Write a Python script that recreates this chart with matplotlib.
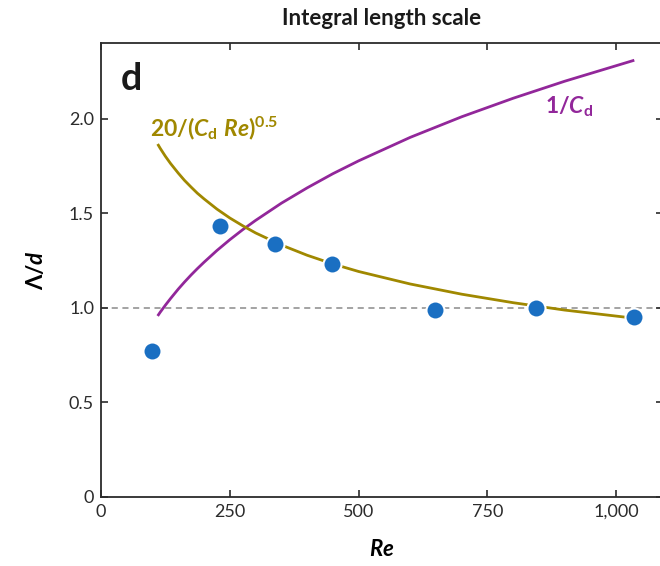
import numpy as np
import matplotlib
matplotlib.use("Agg")
import matplotlib.pyplot as plt

# =====================================================================
# Data
# =====================================================================
re_meas = [99, 231, 338, 449, 648, 844, 1035]
lam_meas = [0.77, 1.43, 1.34, 1.23, 0.99, 1.00, 0.95]

re_curve = [110, 115, 125, 135, 150, 162, 175, 187, 200, 225, 250, 275,
            300, 350, 400, 450, 500, 600, 700, 800, 900, 1035]
inv_cd = [0.957, 0.977, 1.014, 1.049, 1.099, 1.136, 1.174, 1.207, 1.241,
          1.303, 1.360, 1.413, 1.462, 1.553, 1.634, 1.709, 1.777, 1.901,
          2.010, 2.108, 2.198, 2.309]
scaled = [1.866, 1.843, 1.801, 1.763, 1.712, 1.674, 1.638, 1.606, 1.576,
          1.522, 1.475, 1.434, 1.396, 1.332, 1.278, 1.232, 1.192, 1.126,
          1.072, 1.027, 0.988, 0.945]

x_ticks = [0, 250, 500, 750, 1000]
x_ticklabels = ['0', '250', '500', '750', '1,000']
y_ticks = [0, 0.5, 1.0, 1.5, 2.0]
y_ticklabels = ['0', '0.5', '1.0', '1.5', '2.0']

# =====================================================================
# Style
# =====================================================================
plt.rcParams['font.family'] = ['Lato', 'DejaVu Sans']
plt.rcParams['mathtext.fontset'] = 'custom'
plt.rcParams['mathtext.rm'] = 'Lato:bold'
plt.rcParams['mathtext.it'] = 'Lato:bold:italic'
plt.rcParams['mathtext.bf'] = 'Lato:bold'

purple = '#92279A'
gold = '#A08800'
blue = '#1A6FC2'
dark = '#2b2b2b'

fig = plt.figure(figsize=(6.6, 5.66), dpi=100)
ax = fig.add_axes([0.153, 0.122, 0.851, 0.802])

ax.axhline(1.0, color='#8a8a8a', lw=1.1, ls=(0, (4, 3)), zorder=1)
ax.plot(re_curve, inv_cd, color=purple, lw=2.0, zorder=2,
        solid_capstyle='butt', solid_joinstyle='round')
ax.plot(re_curve, scaled, color=gold, lw=2.0, zorder=2,
        solid_capstyle='butt', solid_joinstyle='round')
ax.plot(re_meas, lam_meas, 'o', ms=13, color=blue, mec='white', mew=1.5,
        zorder=3)

ax.set_xlim(0, 1090)
ax.set_ylim(0, 2.4)
ax.set_xticks(x_ticks)
ax.set_xticklabels(x_ticklabels)
ax.set_yticks(y_ticks)
ax.set_yticklabels(y_ticklabels)
ax.tick_params(direction='in', length=5, width=1.2, colors=dark,
               labelsize=13, top=True, right=True, pad=5)
for sp in ax.spines.values():
    sp.set_color(dark)
    sp.set_linewidth(1.3)

ax.set_xlabel(r'$Re$', fontsize=16, labelpad=14)
ax.set_ylabel(r'$\Lambda/d$', fontsize=16, labelpad=16)
ax.set_title('Integral length scale', fontsize=16, fontweight='bold',
             pad=13, color='#1a1a1a')

ax.text(0.036, 0.92, 'd', transform=ax.transAxes, fontsize=27,
        fontweight='bold', color='#1a1a1a', va='center', ha='left')
ax.text(0.088, 0.812, r'$20/(C_\mathrm{d}\ Re)^{0.5}$', transform=ax.transAxes,
        fontsize=16.5, color=gold, va='center', ha='left')
ax.text(0.833, 0.859, r'$1/C_\mathrm{d}$', transform=ax.transAxes,
        fontsize=16.5, color=purple, va='center', ha='center')

fig.savefig('out.png', dpi=100)
